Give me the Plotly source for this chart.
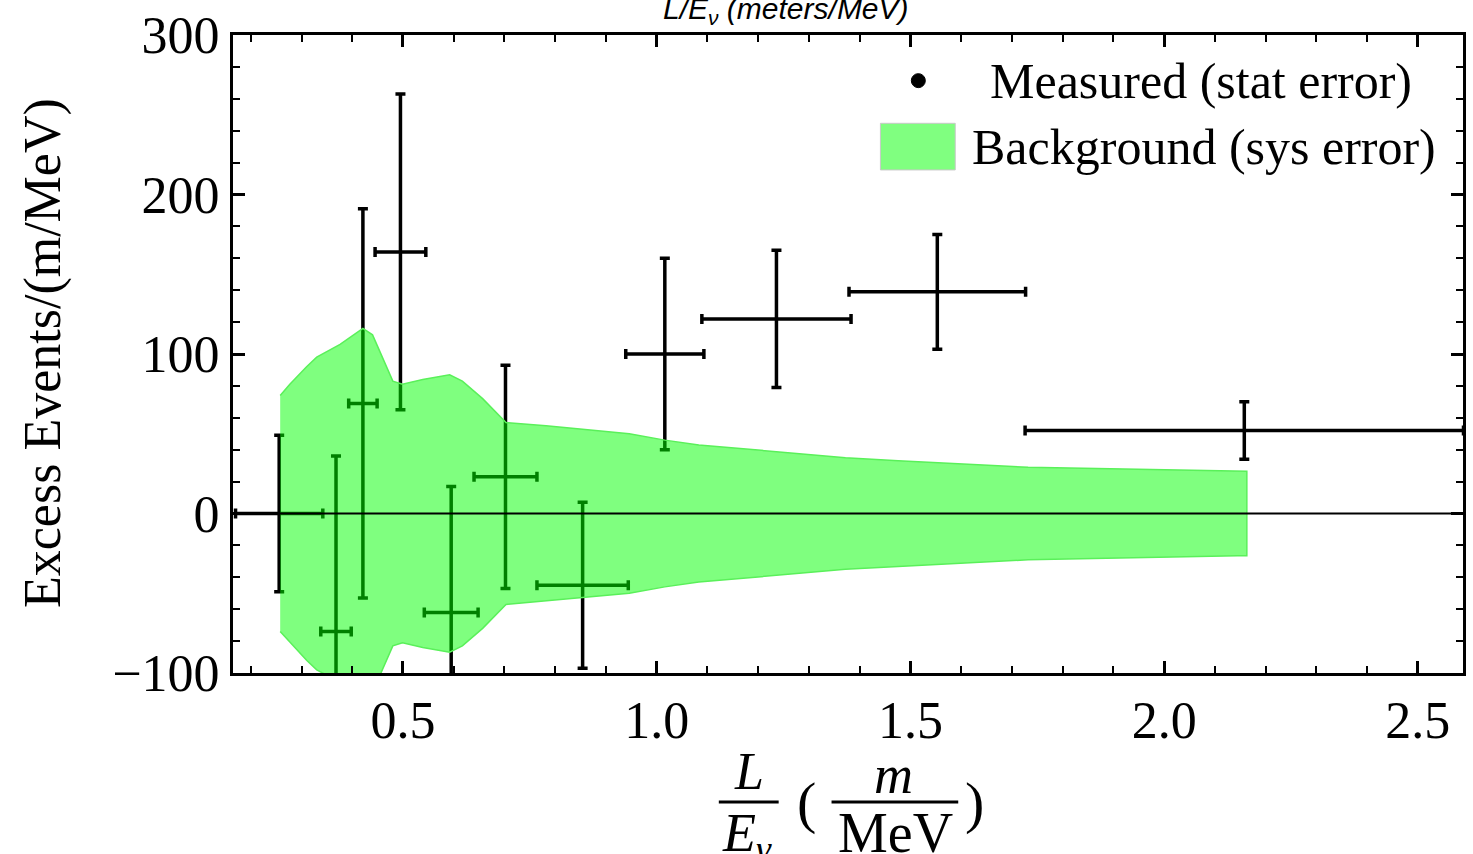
import plotly.graph_objects as go

# ---- data ----
le_center = [0.256, 0.368, 0.421, 0.495, 0.595, 0.702, 0.854, 1.016, 1.236, 1.553, 2.158]
le_halfwidth = [0.086, 0.030, 0.028, 0.050, 0.053, 0.062, 0.090, 0.077, 0.147, 0.174, 0.432]
excess = [0, -74, 69, 164, -62, 23, -45, 100, 122, 139, 52]
stat_err = [49, 110, 122, 99, 79, 70, 52, 60, 43, 36, 18]

band_x = [0.258, 0.277, 0.310, 0.330, 0.376, 0.421, 0.440, 0.480, 0.499, 0.539, 0.592,
          0.617, 0.657, 0.703, 0.782, 0.946, 1.016, 1.083, 1.372, 1.476, 1.732, 2.145, 2.163]
band_sigma = [74, 81, 92, 98, 106, 116, 112, 83, 81, 84, 87,
              83, 72, 57, 55, 50, 46, 43, 35, 33, 29, 26.5, 26.5]

x_ticks = [0.5, 1.0, 1.5, 2.0, 2.5]
y_ticks = [-100, 0, 100, 200, 300]

W, H = 1473, 854
L, R, T, B = 233, 7, 30, 181
PW, PH = W - L - R, H - T - B


def px(xp):
    return (xp - L) / PW


def py(yp):
    return (H - B - yp) / PH


SERIF = "Liberation Serif"

fig = go.Figure()

fig.add_trace(go.Scatter(
    x=le_center, y=excess, mode="markers",
    marker=dict(size=1, color="black"),
    error_x=dict(type="data", array=le_halfwidth, symmetric=True, color="black",
                 thickness=3.5, width=5),
    error_y=dict(type="data", array=stat_err, symmetric=True, color="black",
                 thickness=3.5, width=5),
    showlegend=False, hoverinfo="skip",
))

upper = list(band_sigma)
lower = [-s for s in band_sigma]
fig.add_trace(go.Scatter(
    x=band_x + band_x[::-1], y=upper + lower[::-1],
    mode="lines", fill="toself",
    fillcolor="rgba(0,255,0,0.5)",
    line=dict(color="rgb(90,240,90)", width=1.5),
    showlegend=False, hoverinfo="skip",
))

axis_common = dict(
    showline=True, linecolor="black", linewidth=3, mirror="ticks",
    ticks="inside", ticklen=12, tickwidth=3, tickcolor="black",
    showgrid=False, zeroline=False,
    tickfont=dict(family=SERIF, size=52, color="black"),
)

fig.update_xaxes(range=[0.165, 2.589], tickvals=x_ticks,
                 ticktext=[f"{v:.1f}" for v in x_ticks],
                 minor=dict(dtick=0.1, tick0=0, ticks="inside", ticklen=7,
                            tickwidth=2, tickcolor="black"),
                 **axis_common)
fig.update_yaxes(range=[-100, 300], tickvals=y_ticks,
                 minor=dict(dtick=20, tick0=0, ticks="inside", ticklen=7,
                            tickwidth=2, tickcolor="black"),
                 **axis_common)

shapes = [
    # zero line
    dict(type="line", xref="paper", yref="y", x0=0, x1=1, y0=0, y1=0,
         line=dict(color="black", width=2), layer="above"),
    # legend dot
    dict(type="circle", xref="paper", yref="paper", xsizemode="pixel", ysizemode="pixel",
         xanchor=px(920), yanchor=py(76), x0=-7, x1=7, y0=-7, y1=7,
         fillcolor="black", line=dict(color="black", width=1)),
    # legend box
    dict(type="rect", xref="paper", yref="paper", x0=px(882), x1=px(957),
         y0=py(166), y1=py(119), fillcolor="rgb(128,255,128)",
         line=dict(color="rgb(200,200,200)", width=1)),
    # fraction bars in x title
    dict(type="line", xref="paper", yref="paper", x0=px(720), x1=px(780),
         y0=py(803), y1=py(803), line=dict(color="black", width=3)),
    dict(type="line", xref="paper", yref="paper", x0=px(833), x1=px(960),
         y0=py(803), y1=py(803), line=dict(color="black", width=3)),
]

ann = [
    dict(text="<i>L/E<sub>ν</sub> (meters/MeV)</i>", x=px(787), y=py(5),
         font=dict(family="Liberation Sans", size=30, color="black")),
    dict(text="Excess Events/(m/MeV)", x=px(42), y=py(350), textangle=-90,
         font=dict(family=SERIF, size=52, color="black")),
    dict(text="Measured (stat error)", x=px(990), y=py(76), xanchor="left",
         font=dict(family=SERIF, size=50, color="black")),
    dict(text="Background (sys error)", x=px(972), y=py(143), xanchor="left",
         font=dict(family=SERIF, size=50, color="black")),
    dict(text="<i>L</i>", x=px(750), y=py(772),
         font=dict(family=SERIF, size=52, color="black")),
    dict(text="<i>E<sub>γ</sub></i>", x=px(748), y=py(838),
         font=dict(family=SERIF, size=54, color="black")),
    dict(text="(", x=px(808), y=py(804),
         font=dict(family=SERIF, size=58, color="black")),
    dict(text="<i>m</i>", x=px(895), y=py(776),
         font=dict(family=SERIF, size=54, color="black")),
    dict(text="MeV", x=px(897), y=py(834),
         font=dict(family=SERIF, size=56, color="black")),
    dict(text=")", x=px(976), y=py(804),
         font=dict(family=SERIF, size=58, color="black")),
]
for a in ann:
    a.setdefault("xanchor", "center")
    a.update(xref="paper", yref="paper", yanchor="middle", showarrow=False)

fig.update_layout(
    width=W, height=H, autosize=False,
    margin=dict(l=L, r=R, t=T, b=B),
    paper_bgcolor="white", plot_bgcolor="white",
    shapes=shapes, annotations=ann, showlegend=False,
)

fig.write_html("out.html")
